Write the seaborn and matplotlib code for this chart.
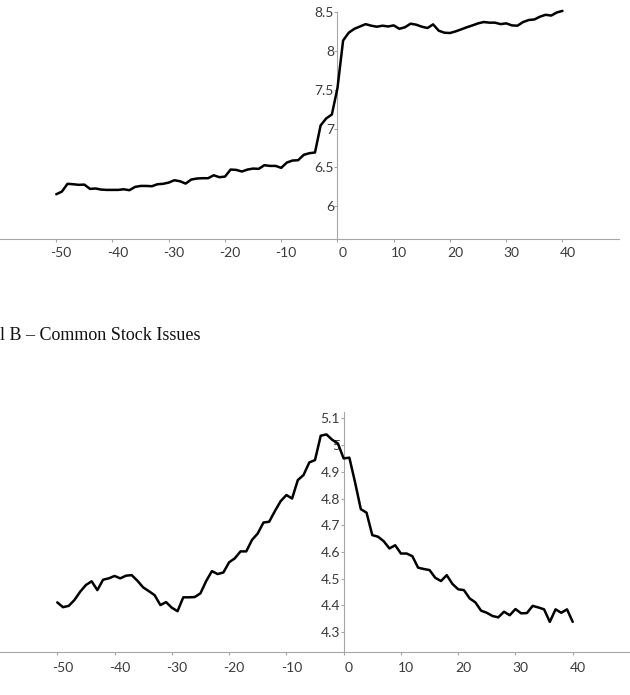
import matplotlib
matplotlib.use("Agg")
import matplotlib.pyplot as plt
import seaborn as sns
from matplotlib.transforms import ScaledTranslation

sns.set_style("white")
plt.rcParams['font.family'] = ['Lato', 'DejaVu Sans']

# event days (x axis) shared by both panels
event_days = list(range(-50, 41))

# panel A line (top)
panel_a_vals = [6.156, 6.19, 6.29, 6.285, 6.277, 6.28, 6.225, 6.23, 6.216, 6.212,
                6.212, 6.212, 6.22, 6.208, 6.25, 6.263, 6.263, 6.259, 6.285, 6.29,
                6.306, 6.336, 6.323, 6.293, 6.345, 6.358, 6.362, 6.362, 6.4, 6.375,
                6.383, 6.473, 6.469, 6.448, 6.473, 6.486, 6.482, 6.529, 6.52, 6.52,
                6.495, 6.563, 6.589, 6.593, 6.662, 6.683, 6.692, 7.04, 7.13, 7.18,
                7.52, 8.13, 8.23, 8.28, 8.31, 8.34, 8.32, 8.307, 8.32, 8.31,
                8.324, 8.28, 8.30, 8.346, 8.333, 8.307, 8.29, 8.337, 8.256, 8.23,
                8.226, 8.247, 8.273, 8.30, 8.324, 8.35, 8.367, 8.359, 8.359, 8.34,
                8.35, 8.324, 8.32, 8.367, 8.393, 8.40, 8.436, 8.46, 8.45, 8.49,
                8.51]

# panel B line (common stock issues)
panel_b_vals = [4.411, 4.393, 4.398, 4.42, 4.451, 4.476, 4.49, 4.457, 4.496, 4.501,
                4.51, 4.501, 4.511, 4.513, 4.492, 4.467, 4.453, 4.438, 4.401, 4.412,
                4.391, 4.378, 4.43, 4.43, 4.431, 4.445, 4.491, 4.528, 4.517, 4.523,
                4.561, 4.576, 4.602, 4.602, 4.645, 4.669, 4.71, 4.713, 4.753, 4.79,
                4.813, 4.80, 4.869, 4.888, 4.935, 4.944, 5.035, 5.04, 5.02, 5.006,
                4.95, 4.953, 4.86, 4.76, 4.747, 4.663, 4.657, 4.64, 4.613, 4.625,
                4.594, 4.594, 4.584, 4.541, 4.536, 4.532, 4.503, 4.491, 4.513, 4.48,
                4.46, 4.457, 4.426, 4.411, 4.38, 4.372, 4.36, 4.355, 4.376, 4.363,
                4.386, 4.37, 4.371, 4.398, 4.392, 4.385, 4.338, 4.385, 4.372, 4.385,
                4.338]

x_ticks = [-50, -40, -30, -20, -10, 0, 10, 20, 30, 40]
x_labels = ['-50', '-40', '-30', '-20', '-10', '0', '10', '20', '30', '40']
a_yticks = [6, 6.5, 7, 7.5, 8, 8.5]
a_ylabels = ['6', '6.5', '7', '7.5', '8', '8.5']
b_yticks = [4.3, 4.4, 4.5, 4.6, 4.7, 4.8, 4.9, 5.0, 5.1]
b_ylabels = ['4.3', '4.4', '4.5', '4.6', '4.7', '4.8', '4.9', '5', '5.1']
panel_b_title = "l B \u2013 Common Stock Issues"

axis_col = '#a6a6a6'
text_col = '#3a3a3a'

fig = plt.figure(figsize=(6.3, 6.95), dpi=100)
ax1 = fig.add_axes([0, 0.6557, 0.9821, 0.3275])
ax2 = fig.add_axes([0, 0.0614, 1.0, 0.3462])


def style_axis(ax, yticks, ylabels, ylim, xpad):
    ax.set_xlim(-60, 50)
    ax.set_ylim(*ylim)
    ax.set_xticks(x_ticks)
    ax.set_xticklabels(x_labels)
    ax.set_yticks(yticks)
    ax.set_yticklabels(ylabels)
    for s in ['top', 'right']:
        ax.spines[s].set_visible(False)
    ax.spines['left'].set_position(('data', 0))
    for s in ['left', 'bottom']:
        ax.spines[s].set_color(axis_col)
        ax.spines[s].set_linewidth(0.8)
    ax.tick_params(axis='x', direction='out', length=2.5, width=0.8, color=axis_col,
                   pad=xpad, labelsize=10, labelcolor=text_col, bottom=True)
    ax.tick_params(axis='y', direction='out', length=2, width=0.8, color=axis_col,
                   pad=0.5, labelsize=10, labelcolor=text_col, left=True)
    ax.set_xlabel('')
    ax.set_ylabel('')
    ax.grid(False)


sns.lineplot(x=event_days, y=panel_a_vals, ax=ax1, color='black', lw=1.8,
             zorder=3, clip_on=False)
sns.lineplot(x=event_days, y=panel_b_vals, ax=ax2, color='black', lw=1.8,
             zorder=3, clip_on=False)

style_axis(ax1, a_yticks, a_ylabels, (5.578, 8.5), 3.0)
style_axis(ax2, b_yticks, b_ylabels, (4.224, 5.125), 4.3)

fig.text(0.5 / 630, 1 - 335 / 695, panel_b_title, family='Liberation Serif',
         fontsize=13, color='#111111', ha='left', va='center')

# x labels in the original sit a few pixels right of their ticks
off = ScaledTranslation(5 / 100, 0, fig.dpi_scale_trans)
for ax in (ax1, ax2):
    for lab in ax.get_xticklabels():
        lab.set_transform(lab.get_transform() + off)

fig.savefig('out.png', dpi=100)
